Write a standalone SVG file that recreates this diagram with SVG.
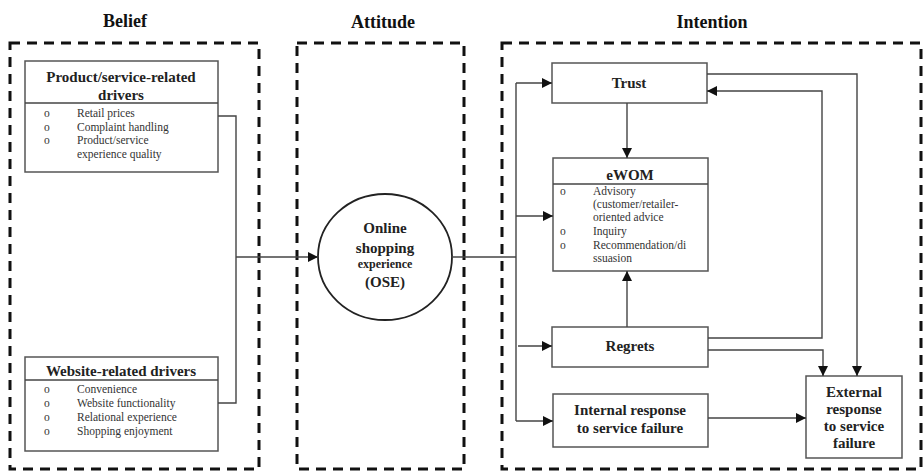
<svg xmlns="http://www.w3.org/2000/svg" width="924" height="473" viewBox="0 0 924 473">
<defs>
<marker id="ah" viewBox="0 0 10 10" refX="10" refY="5" markerWidth="10" markerHeight="10" markerUnits="userSpaceOnUse" orient="auto">
<path d="M0,0 L10,5 L0,10 z" fill="#111"/>
</marker>
<style>
.dash{fill:none;stroke:#111;stroke-width:3;stroke-dasharray:10 7}
.box{fill:#fff;stroke:#555;stroke-width:1.5}
.ln{fill:none;stroke:#444;stroke-width:1.4}
.ar{fill:none;stroke:#444;stroke-width:1.4;marker-end:url(#ah)}
.h{font-family:"Liberation Serif","DejaVu Serif",serif;font-weight:bold;font-size:18px;fill:#111;text-anchor:middle}
.t{font-family:"Liberation Serif","DejaVu Serif",serif;font-weight:bold;font-size:15px;fill:#222;text-anchor:middle}
.i{font-family:"Liberation Serif","DejaVu Serif",serif;font-size:11.5px;fill:#333}
</style>
</defs>
<rect width="924" height="473" fill="#fff"/>
<g id="belief">
<text class="h" x="125" y="27">Belief</text>
<rect class="dash" x="10" y="43" width="249" height="426"/>
</g>
<g id="attitude">
<text class="h" x="383" y="28">Attitude</text>
<rect class="dash" x="297" y="43" width="167" height="426"/>
</g>
<g id="intention">
<text class="h" x="712" y="28">Intention</text>
<rect class="dash" x="502" y="43" width="419" height="426"/>
</g>
<g id="product">
<rect class="box" x="25" y="61" width="193" height="111"/>
<line class="ln" x1="25" y1="103" x2="218" y2="103"/>
<text class="t" x="121" y="82">Product/service-related</text>
<text class="t" x="121" y="100">drivers</text>
<g class="i">
<text x="44" y="117">o</text><text x="77" y="117">Retail prices</text>
<text x="44" y="131">o</text><text x="77" y="131">Complaint handling</text>
<text x="44" y="144">o</text><text x="77" y="144">Product/service</text>
<text x="77" y="158">experience quality</text>
</g>
</g>
<g id="website">
<rect class="box" x="25" y="357" width="193" height="94"/>
<line class="ln" x1="25" y1="380" x2="218" y2="380"/>
<text class="t" x="121" y="376">Website-related drivers</text>
<g class="i">
<text x="44" y="393">o</text><text x="77" y="393">Convenience</text>
<text x="44" y="407">o</text><text x="77" y="407">Website functionality</text>
<text x="44" y="421">o</text><text x="77" y="421">Relational experience</text>
<text x="44" y="435">o</text><text x="77" y="435">Shopping enjoyment</text>
</g>
</g>
<g id="ose">
<ellipse cx="385" cy="257" rx="67" ry="63" fill="#fff" stroke="#222" stroke-width="1.8"/>
<text class="t" x="385" y="233">Online</text>
<text class="t" x="385" y="253">shopping</text>
<text class="t" x="385" y="268" style="font-size:12px">experience</text>
<text class="t" x="385" y="287">(OSE)</text>
</g>
<g id="trust">
<rect class="box" x="552" y="63" width="155" height="40"/>
<text class="t" x="629" y="88">Trust</text>
</g>
<g id="ewom">
<rect class="box" x="553" y="158" width="155" height="113"/>
<line class="ln" x1="553" y1="184" x2="708" y2="184"/>
<text class="t" x="630" y="180">eWOM</text>
<g class="i">
<text x="560" y="195">o</text><text x="593" y="195">Advisory</text>
<text x="593" y="208">(customer/retailer-</text>
<text x="593" y="221">oriented advice</text>
<text x="560" y="235">o</text><text x="593" y="235">Inquiry</text>
<text x="560" y="249">o</text><text x="593" y="249">Recommendation/di</text>
<text x="593" y="262">ssuasion</text>
</g>
</g>
<g id="regrets">
<rect class="box" x="552" y="327" width="156" height="40"/>
<text class="t" x="630" y="351">Regrets</text>
</g>
<g id="internal">
<rect class="box" x="553" y="394" width="155" height="53"/>
<text class="t" x="630" y="415">Internal response</text>
<text class="t" x="630" y="433">to service failure</text>
</g>
<g id="external">
<rect class="box" x="806" y="376" width="96" height="82"/>
<text class="t" x="854" y="397">External</text>
<text class="t" x="854" y="414">response</text>
<text class="t" x="854" y="431">to service</text>
<text class="t" x="854" y="448">failure</text>
</g>
<g id="connectors">
<polyline class="ln" points="218,116 236,116 236,403 218,403"/>
<line class="ar" x1="236" y1="257" x2="318" y2="257"/>
<line class="ln" x1="452" y1="257" x2="516" y2="257"/>
<line class="ln" x1="516" y1="83" x2="516" y2="421"/>
<line class="ar" x1="516" y1="83" x2="552" y2="83"/>
<line class="ar" x1="516" y1="216" x2="553" y2="216"/>
<line class="ar" x1="518" y1="346" x2="552" y2="346"/>
<line class="ar" x1="516" y1="421" x2="553" y2="421"/>
<line class="ar" x1="627" y1="103" x2="627" y2="158"/>
<line class="ar" x1="627" y1="327" x2="627" y2="271"/>
<polyline class="ar" points="707,74 857,74 857,376"/>
<polyline class="ar" points="708,338 822,338 822,91 707,91"/>
<polyline class="ar" points="708,350 823,350 823,376"/>
<line class="ar" x1="708" y1="418" x2="806" y2="418"/>
</g>
</svg>
